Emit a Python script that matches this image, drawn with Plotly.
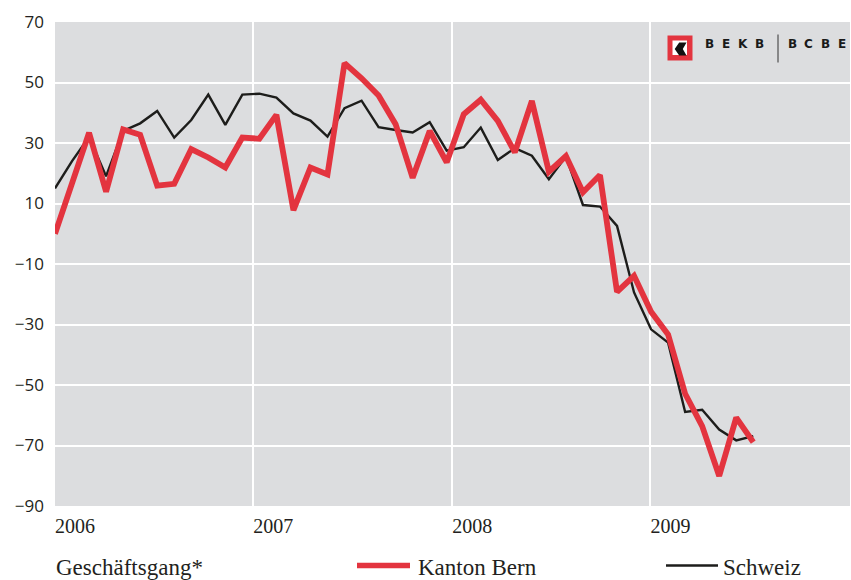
import plotly.graph_objects as go

# Monthly index Jan 2006 .. Jun 2009
months = list(range(42))
kanton_bern = [0, 17, 33.4, 13.9, 34.5, 32.7, 15.9, 16.5, 28, 25.2, 21.9, 31.8,
               31.4, 39.3, 7.8, 21.9, 19.6, 56.4, 51.4, 45.7, 36.2, 18.5, 34, 23.6,
               39.5, 44.3, 37.3, 26.9, 43.9, 20.5, 25.7, 13.7, 19.4, -19.2, -13.9, -25.8,
               -33.3, -52.9, -63.6, -80.1, -60.8, -68.9]
schweiz = [15, 24, 32, 19, 34, 36.5, 40.6, 31.8, 37.6, 46, 36, 46,
           46.3, 45, 39.8, 37.4, 32.1, 41.5, 44, 35.2, 34.3, 33.5, 36.9, 27.5,
           28.6, 35.1, 24.4, 28.3, 25.8, 18, 25.5, 9.5, 9.0, 2.6, -19.4, -31.6,
           -36, -58.9, -58.2, -64.7, -68.3, -66.9]
year_labels = ["2006", "2007", "2008", "2009"]
year_pos = [0, 11.64, 23.33, 34.96]
y_ticks = [70, 50, 30, 10, -10, -30, -50, -70, -90]

RED = "#e3343f"
BLACK = "#1d1d1b"
BG = "#dcdddf"

fig = go.Figure()
fig.add_trace(go.Scatter(x=months, y=schweiz, mode="lines",
                         line=dict(color=BLACK, width=2.4), name="Schweiz"))
fig.add_trace(go.Scatter(x=months, y=kanton_bern, mode="lines",
                         line=dict(color=RED, width=5.8), name="Kanton Bern"))

W, H = 851, 580
L, R, T, B = 55, 1, 22, 74
pw, ph = W - L - R, H - T - B


def px(x):
    return (x - L) / pw


def py(y):
    return (H - B - y) / ph


shapes = []
annotations = []
FOOT = dict(family="Liberation Serif", size=23, color="#231f20")

# Legend / footer
annotations.append(dict(text="Geschäftsgang*", x=px(54), y=py(567), xref="paper", yref="paper",
                        xanchor="left", yanchor="middle", showarrow=False, font=FOOT))
shapes.append(dict(type="line", xref="paper", yref="paper", x0=px(357), x1=px(410),
                   y0=py(565.5), y1=py(565.5), line=dict(color=RED, width=5.5)))
annotations.append(dict(text="Kanton Bern", x=px(416), y=py(567), xref="paper", yref="paper",
                        xanchor="left", yanchor="middle", showarrow=False, font=FOOT))
shapes.append(dict(type="line", xref="paper", yref="paper", x0=px(666), x1=px(718),
                   y0=py(565.5), y1=py(565.5), line=dict(color=BLACK, width=2.4)))
annotations.append(dict(text="Schweiz", x=px(721), y=py(567), xref="paper", yref="paper",
                        xanchor="left", yanchor="middle", showarrow=False, font=FOOT))

# Logo
shapes.append(dict(type="rect", xref="paper", yref="paper", x0=px(667.5), x1=px(692.5),
                   y0=py(60.5), y1=py(35.5), fillcolor=RED, line=dict(width=0)))
shapes.append(dict(type="rect", xref="paper", yref="paper", x0=px(672.5), x1=px(687),
                   y0=py(55), y1=py(40.5), fillcolor="white", line=dict(width=0)))
chev = [(674.7, 49), (679.2, 42.5), (686.5, 42.5), (682.8, 49), (686.5, 55.5), (679.2, 55.5)]
path = "M " + " L ".join(f"{px(a):.5f},{py(b):.5f}" for a, b in chev) + " Z"
shapes.append(dict(type="path", xref="paper", yref="paper", path=path,
                   fillcolor="#111111", line=dict(width=0)))
shapes.append(dict(type="line", xref="paper", yref="paper", x0=px(778), x1=px(778),
                   y0=py(34.5), y1=py(62.5), line=dict(color="#333333", width=1)))
for ch, xx in zip("BEKBBCBE", [709, 726, 742.5, 759.5, 792, 808.5, 825, 841.5]):
    annotations.append(dict(text=f"<b>{ch}</b>", x=px(xx), y=py(44), xref="paper", yref="paper",
                            xanchor="center", yanchor="middle", showarrow=False,
                            font=dict(family="DejaVu Sans", size=12, color="#1a1a1a")))

fig.update_layout(
    width=W, height=H,
    margin=dict(l=L, r=R, t=T, b=B, pad=0),
    paper_bgcolor="white", plot_bgcolor=BG,
    showlegend=False,
    shapes=shapes, annotations=annotations,
    xaxis=dict(range=[0, 46.68], tickvals=year_pos, ticktext=year_labels,
               showgrid=True, gridcolor="white", gridwidth=2, zeroline=False,
               showline=False, ticks="", ticklabelposition="outside right",
               tickfont=dict(family="Liberation Sans Narrow", size=20, color="#231f20"),
               ticklabelstandoff=6),
    yaxis=dict(range=[-90, 70], tickvals=y_ticks,
               showgrid=True, gridcolor="white", gridwidth=2, zeroline=False,
               showline=False, ticks="", ticklabelstandoff=10,
               tickfont=dict(family="Open Sans", size=17, color="#231f20")),
)

fig.write_html("out.html", config={"displayModeBar": False},
               post_script="document.body.style.margin='0';document.body.style.padding='0';")
